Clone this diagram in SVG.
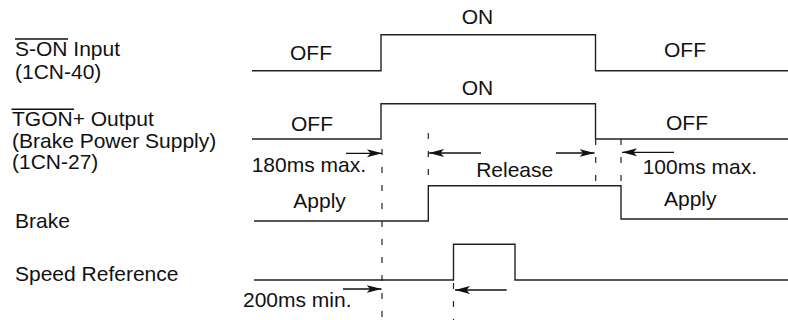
<svg xmlns="http://www.w3.org/2000/svg" width="788" height="320" viewBox="0 0 788 320">
  <style>
    text { font-family: "Liberation Sans", Arial, sans-serif; font-size: 21px; fill: #111; }
    .wave { fill: none; stroke: #222; stroke-width: 1.4; }
    .dash { fill: none; stroke: #222; stroke-width: 1.2; stroke-dasharray: 6 12; }
    .arrow { fill: none; stroke: #111; stroke-width: 1.3; marker-end: url(#ah); }
    .ovl { stroke: #111; stroke-width: 1.4; }
  </style>
  <defs>
    <marker id="ah" markerUnits="userSpaceOnUse" markerWidth="17" markerHeight="10" refX="15" refY="5" orient="auto">
      <path d="M0,1 L15,5 L0,9 L3.5,5 z" fill="#111"/>
    </marker>
  </defs>
  <rect width="788" height="320" fill="#fff"/>

  <g id="label-son">
    <text x="15" y="56">S-ON Input</text>
    <line class="ovl" x1="15" y1="39" x2="68" y2="39"/>
    <text x="15" y="79">(1CN-40)</text>
  </g>
  <g id="label-tgon">
    <text x="12" y="126">TGON+ Output</text>
    <line class="ovl" x1="11.5" y1="109.3" x2="74" y2="109.3"/>
    <text x="12" y="147.5">(Brake Power Supply)</text>
    <text x="12" y="169">(1CN-27)</text>
  </g>
  <g id="label-brake">
    <text x="15" y="228">Brake</text>
  </g>
  <g id="label-speed">
    <text x="15" y="281">Speed Reference</text>
  </g>

  <g id="wave-son">
    <polyline class="wave" points="252,70.7 381,70.7 381,34.7 595.5,34.7 595.5,70.7 788,70.7"/>
    <text x="311" y="60" text-anchor="middle">OFF</text>
    <text x="477.5" y="24" text-anchor="middle">ON</text>
    <text x="685" y="57" text-anchor="middle">OFF</text>
  </g>
  <g id="wave-tgon">
    <polyline class="wave" points="252,139 381,139 381,103.7 595.5,103.7 595.5,139 788,139"/>
    <text x="312" y="131" text-anchor="middle">OFF</text>
    <text x="477.5" y="95" text-anchor="middle">ON</text>
    <text x="687" y="129.5" text-anchor="middle">OFF</text>
  </g>
  <g id="wave-brake">
    <polyline class="wave" points="254,221 428.3,221 428.3,185.7 621,185.7 621,219 788,219"/>
    <text x="293.3" y="207.5">Apply</text>
    <text x="664" y="206">Apply</text>
  </g>
  <g id="wave-speed">
    <polyline class="wave" points="254,280 453.5,280 453.5,244.3 515,244.3 515,280 788,280"/>
  </g>

  <g id="connectors">
    <line class="dash" x1="382" y1="149" x2="382" y2="320"/>
    <line class="dash" x1="428.3" y1="133" x2="428.3" y2="186"/>
    <line class="dash" x1="595.7" y1="139" x2="595.7" y2="186"/>
    <line class="dash" x1="621" y1="139" x2="621" y2="186"/>
    <line class="dash" x1="453.5" y1="283" x2="453.5" y2="320"/>

    <line class="arrow" x1="346" y1="153.3" x2="382" y2="153.3"/>
    <line class="arrow" x1="481" y1="153" x2="429" y2="153"/>
    <line class="arrow" x1="556" y1="153" x2="594.5" y2="153"/>
    <line class="arrow" x1="674" y1="152.3" x2="622" y2="152.3"/>
    <line class="arrow" x1="343" y1="289" x2="381.5" y2="289"/>
    <line class="arrow" x1="506.7" y1="290" x2="455" y2="290"/>

    <text x="251.7" y="171.5">180ms max.</text>
    <text x="514.7" y="177.3" text-anchor="middle">Release</text>
    <text x="642.7" y="174.3">100ms max.</text>
    <text x="243" y="307.3">200ms min.</text>
  </g>
</svg>
